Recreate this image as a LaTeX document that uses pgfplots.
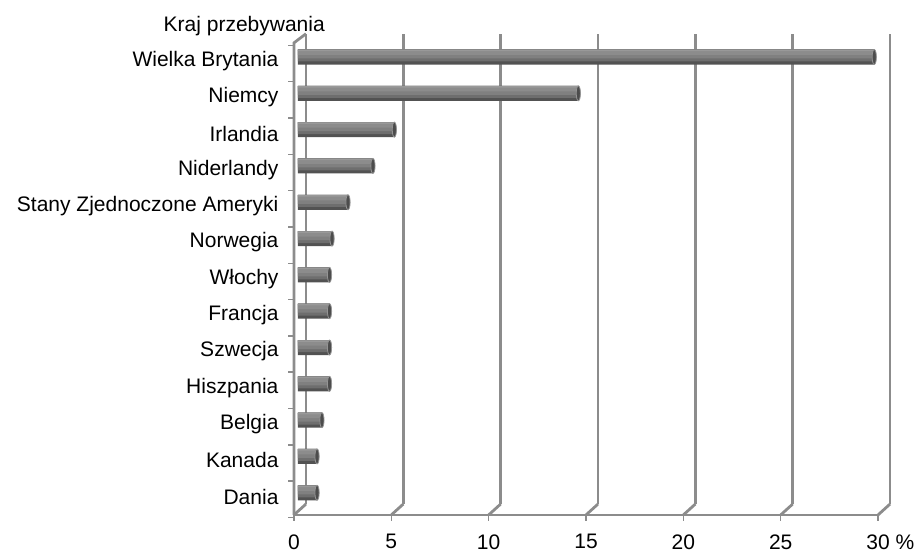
\documentclass[border=0pt]{standalone}
\usepackage{pgfplots}
\pgfplotsset{compat=1.18}
\usepackage{fontspec}
\setmainfont{Liberation Sans}
\definecolor{gridc}{HTML}{8C8C8C}
\pgfplotstableread{
y v
1 0.98
2 0.98
3 1.23
4 1.62
5 1.62
6 1.62
7 1.62
8 1.75
9 2.57
10 3.85
11 4.95
12 14.4
13 29.6
}\datatable
\begin{document}
\begin{tikzpicture}[font=\fontsize{21}{25}\selectfont]
\begin{axis}[
  set layers,
  scale only axis, width=584pt, height=472pt,
  xmin=0, xmax=30, ymin=0.5, ymax=13.5,
  clip=false,
  axis line style={draw=none},
  major tick style={draw=none},
  xtick={0,5,10,15,20,25,30},
  xticklabels={\mbox{0},\mbox{5},\mbox{10},\mbox{15},\mbox{20},\mbox{25},\mbox{30\rlap{ \%}}},
  ytick={1,...,13},
  yticklabels={Dania,Kanada,Belgia,Hiszpania,Szwecja,Francja,Włochy,Norwegia,Stany Zjednoczone Ameryki,Niderlandy,Irlandia,Niemcy,Wielka Brytania},
  xticklabel style={yshift=-16pt},
  yticklabel style={xshift=-12pt},
  /pgf/number format/assume math mode=true,
  every axis plot/.append style={xshift=4pt, yshift=4pt},
]
\begin{pgfonlayer}{axis background}
  \pgfplotsinvokeforeach{0,5,...,30}{
    \draw[gridc, line width=2.8pt] (axis cs:#1+0.616,0.8) -- (axis cs:#1+0.616,13.75);
    \draw[gridc, line width=2.8pt] (axis cs:#1,0.5) -- (axis cs:#1+0.616,0.8);
    \draw[gridc, line width=1.5pt] (axis cs:#1,0.5) -- ++(0pt,-6pt);
  }
  \draw[gridc, line width=2.8pt] (axis cs:0,0.5) -- (axis cs:30,0.5);
  \draw[gridc, line width=2.8pt] (axis cs:0,0.5) -- (axis cs:0,13.5) -- (axis cs:0.616,13.75);
  \pgfplotsinvokeforeach{0,...,13}{
    \draw[gridc, line width=1.5pt] (axis cs:0,#1+0.43) -- ++(-6pt,0pt);
  }
\end{pgfonlayer}
\addplot[xbar, bar width=15pt, bar shift=0pt, draw=none, fill=black!68] table[x=v,y=y]{\datatable};
\addplot[xbar, bar width=12pt, bar shift=1.5pt, draw=none, fill=black!57] table[x=v,y=y]{\datatable};
\addplot[xbar, bar width=9pt, bar shift=3pt, draw=none, fill=black!50] table[x=v,y=y]{\datatable};
\addplot[xbar, bar width=5pt, bar shift=4.5pt, draw=none, fill=black!45] table[x=v,y=y]{\datatable};
\addplot[xbar, bar width=1.5pt, bar shift=6.5pt, draw=none, fill=black!40] table[x=v,y=y]{\datatable};
\addplot[only marks, mark=*, mark size=7.5pt,
  mark options={xscale=0.28, fill=black!70, draw=black!42, line width=0.8pt}]
  table[x=v,y=y]{\datatable};
\node[anchor=base east, inner sep=0pt] at ([xshift=31pt, yshift=11pt]axis cs:0,13.5) {Kraj przebywania};
\coordinate (bbSW) at (axis cs:-15.10,-0.519);
\coordinate (bbNE) at (axis cs:32.0,14.68);
\end{axis}
\pgfresetboundingbox
\path[use as bounding box] (bbSW) rectangle (bbNE);
\end{tikzpicture}
\end{document}
